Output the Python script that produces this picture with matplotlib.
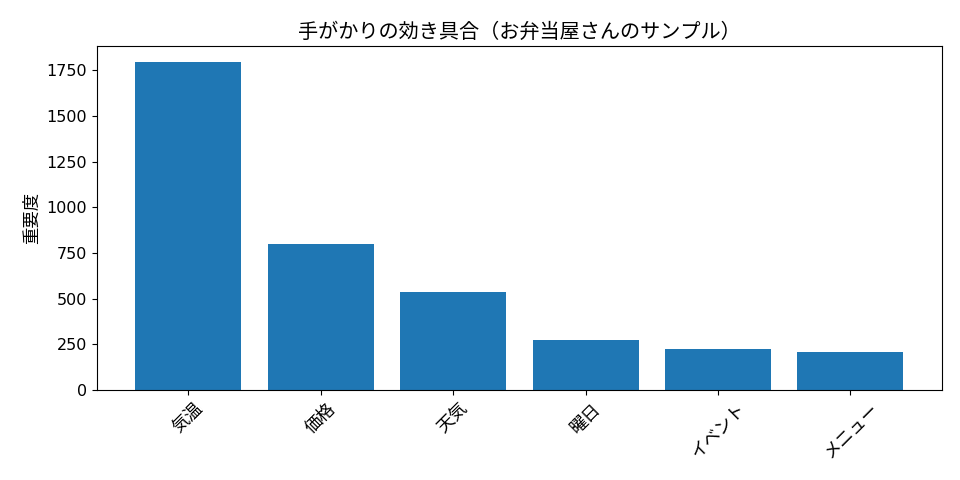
import matplotlib
matplotlib.use("Agg")
from matplotlib import pyplot as plt

plt.rcParams['font.family'] = ['DejaVu Sans', 'Noto Sans CJK JP']
plt.rcParams['font.size'] = 11.5

# 手がかり（特徴量）と重要度
features = ['気温', '価格', '天気', '曜日', 'イベント', 'メニュー']
importance = [1792, 801, 538, 275, 226, 210]

fig, ax = plt.subplots(figsize=(9.6, 4.8), dpi=100)
ax.bar(features, importance, color='#1f77b4')
ax.set_title('手がかりの効き具合（お弁当屋さんのサンプル）', fontsize=14.5)
ax.set_ylabel('重要度', fontsize=12.5)
plt.xticks(rotation=45, fontsize=12.5)

fig.subplots_adjust(left=0.101, right=0.981, top=0.904, bottom=0.1875)
fig.savefig('out.png', dpi=100)
